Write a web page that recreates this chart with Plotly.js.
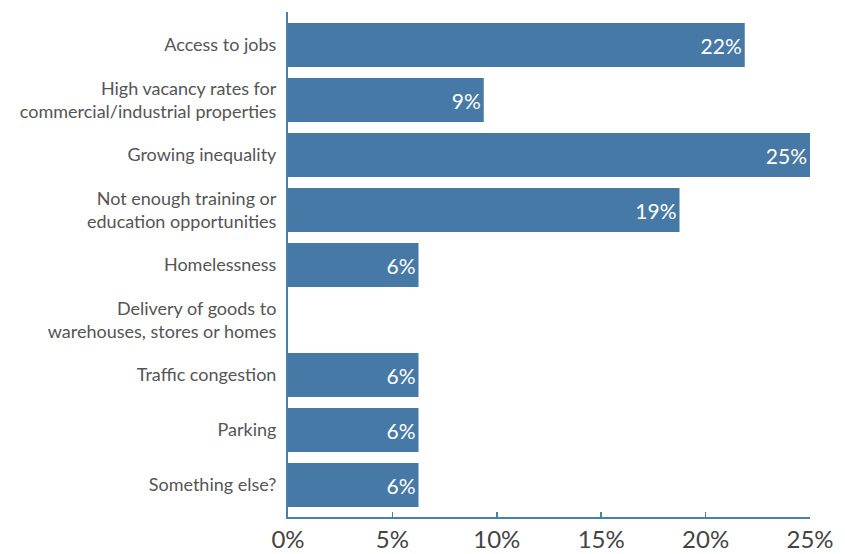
<!DOCTYPE html>
<html>
<head>
<meta charset="utf-8">
<script src="https://cdn.plot.ly/plotly-3.0.1.min.js"></script>
<style>html,body{margin:0;padding:0;background:#fff;}#chart{width:845px;height:554px;}</style>
</head>
<body>
<div id="chart"></div>
<script>
const categories = [
  "Access to jobs",
  "High vacancy rates for<br>commercial/industrial properties",
  "Growing inequality",
  "Not enough training or<br>education opportunities",
  "Homelessness",
  "Delivery of goods to<br>warehouses, stores or homes",
  "Traffic congestion",
  "Parking",
  "Something else?"
];
const values = [21.875, 9.375, 25, 18.75, 6.25, 0, 6.25, 6.25, 6.25];
const labels = ["22%", "9%", "25%", "19%", "6%", "", "6%", "6%", "6%"];
const tickVals = [0, 5, 10, 15, 20, 25];
const tickText = ["0%", "5%", "10%", "15%", "20%", "25%"];

const trace = {
  type: 'bar',
  orientation: 'h',
  y: categories,
  x: values,
  text: labels,
  textposition: 'inside',
  insidetextanchor: 'end',
  textfont: {family: 'Lato, sans-serif', size: 21, color: '#ffffff'},
  marker: {color: '#4679a6'},
  hoverinfo: 'none',
  cliponaxis: false
};

const layout = {
  width: 845, height: 554,
  margin: {l: 288, r: 35, t: 12, b: 37},
  paper_bgcolor: '#ffffff', plot_bgcolor: '#ffffff',
  bargap: 0.2,
  showlegend: false,
  xaxis: {
    range: [0, 25],
    tickvals: tickVals, ticktext: tickText,
    showgrid: false, zeroline: false,
    showline: true, linecolor: '#4a7fa8', linewidth: 2,
    ticks: 'inside', ticklen: 5, tickcolor: '#4a7fa8', tickwidth: 1.5,
    ticklabelstandoff: 0,
    tickfont: {family: 'Lato, sans-serif', size: 24, color: '#444444'},
    fixedrange: true
  },
  yaxis: {
    type: 'category',
    range: [8.58, -0.6],
    showgrid: false, zeroline: false,
    showline: true, linecolor: '#4a7fa8', linewidth: 2,
    ticks: '',
    ticklabelstandoff: 6,
    tickfont: {family: 'Lato, sans-serif', size: 18, color: '#555555'},
    fixedrange: true
  },
  font: {family: 'Lato, sans-serif'}
};

Plotly.newPlot('chart', [trace], layout, {displayModeBar: false, staticPlot: true});
</script>
</body>
</html>
